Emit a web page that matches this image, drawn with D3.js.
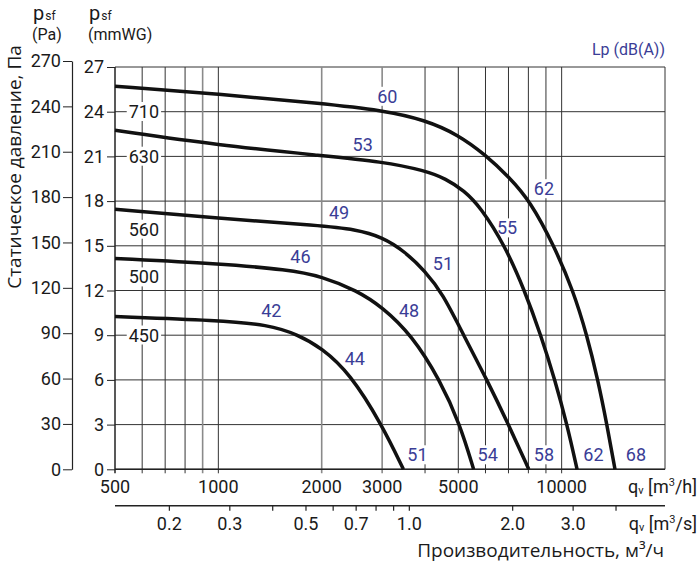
<!DOCTYPE html>
<html>
<head>
<meta charset="utf-8">
<script src="https://cdn.jsdelivr.net/npm/d3@7"></script>
<style>
	body { margin: 0; background: #fff; }
	text { font-family: Roboto, "DejaVu Sans", sans-serif; }
	.title { font-family: "Open Sans", sans-serif; }
</style>
</head>
<body>
<svg id="chart" width="700" height="570"></svg>
<script>
// fan curves: flow in m3/h, static pressure in mmWG
const q710 = [500, 1000, 2000, 3000, 4000, 5000, 6000, 7000, 8100, 9500, 10800, 11850, 12750, 13550, 14300];
const p710 = [25.7, 25.2, 24.55, 24.1, 23.45, 22.45, 21.1, 19.65, 18, 15, 12, 9, 6, 3, 0];
const q630 = [500, 1000, 2000, 3000, 4000, 4600, 5200, 5800, 6840, 7800, 8700, 9560, 10370, 11090];
const p630 = [22.75, 21.75, 21.05, 20.65, 20.05, 19.5, 18.7, 17.6, 15, 12, 9, 6, 3, 0];
const q560 = [500, 1000, 2000, 2500, 3000, 3500, 4000, 4500, 5180, 6060, 7000, 8020];
const p560 = [17.45, 16.85, 16.35, 16.1, 15.6, 14.6, 13.3, 11.8, 9, 6, 3, 0];
const q500 = [500, 1000, 1600, 2000, 2530, 3000, 3660, 4420, 5060, 5540];
const p500 = [14.15, 13.8, 13.4, 12.95, 12, 10.9, 9, 6, 3, 0];
const q450 = [500, 1000, 1400, 1700, 2000, 2415, 3000, 3460];
const p450 = [10.25, 10.0, 9.7, 9.05, 8.15, 6.45, 2.97, 0];

const curveFlows = [q710, q630, q560, q500, q450];
const curvePressures = [p710, p630, p560, p500, p450];

// fan size labels
const sizeNames = ["710", "630", "560", "500", "450"];
const sizeLabelP = [24, 21, 16.1, 12.9, 9];
const sizeLabelQ = 607;

// sound level labels
const dbText = ["60", "53", "49", "46", "42", "62", "55", "51", "48", "44", "51", "54", "58", "62", "68"];
const dbQ = [3105, 2632, 2248, 1734, 1426, 8880, 6937, 4510, 3593, 2498, 3801, 6088, 8880, 12380, 16460];
const dbP = [25.02, 21.78, 17.19, 14.24, 10.63, 18.82, 16.19, 13.83, 10.63, 7.45, 0.96, 0.96, 0.96, 0.96, 0.96];

// axes
const gridFlows = [600, 700, 800, 900, 1000, 2000, 3000, 4000, 5000, 6000, 7000, 8000, 9000, 10000];
const grayFlows = [900, 2000, 3000];
const flowLabels = [500, 1000, 2000, 3000, 5000, 10000];
const mmTicks = d3.range(0, 28, 3);
const paTicks = d3.range(0, 271, 30);
const secTicks = [0.2, 0.3, 0.4, 0.5, 0.6, 0.7, 0.8, 0.9, 1, 2, 3, 4];
const secLabels = [0.2, 0.3, 0.5, 0.7, 1, 2, 3];

const blue = "#3a3d96";
const ink = "#1a1a1a";

const svg = d3.select("#chart");

const x = d3.scaleLog().domain([500, 20000]).range([115, 665]);
const y = d3.scaleLinear().domain([0, 27]).range([469.3, 67]);
const yPa = d3.scaleLinear().domain([0, 270]).range([469.3, 61]);

const plotLeft = x.range()[0], plotRight = x.range()[1];
const plotBottom = y.range()[0], plotTop = y.range()[1];

// grid
const grid = svg.append("g");
grid.selectAll("line.h")
	.data(mmTicks)
	.join("line")
	.attr("x1", plotLeft).attr("x2", plotRight)
	.attr("y1", d => y(d)).attr("y2", d => y(d))
	.attr("stroke", "#333").attr("stroke-width", 1);

grid.selectAll("line.v")
	.data(gridFlows)
	.join("line")
	.attr("x1", d => x(d)).attr("x2", d => x(d))
	.attr("y1", plotTop).attr("y2", plotBottom + 4)
	.attr("stroke", d => grayFlows.includes(d) ? "#8a8a8a" : "#333")
	.attr("stroke-width", d => grayFlows.includes(d) ? 1.6 : 1);

// right border
grid.append("line")
	.attr("x1", plotRight).attr("x2", plotRight)
	.attr("y1", plotTop).attr("y2", plotBottom)
	.attr("stroke", "#333");

// left mmWG axis
const mmAxis = svg.append("g").attr("transform", `translate(${plotLeft},0)`)
	.call(d3.axisLeft(y).tickValues(mmTicks).tickSize(8).tickSizeOuter(0).tickPadding(3));
mmAxis.select(".domain").attr("stroke", "#222").attr("stroke-width", 1.5).attr("d", `M0,${plotBottom + 4}V${plotTop}`);
mmAxis.selectAll("line").attr("stroke", "#222");
mmAxis.selectAll("text").attr("font-size", 18).attr("fill", ink).attr("font-family", "Roboto");

// Pa axis
const paAxis = svg.append("g").attr("transform", "translate(72,0)")
	.call(d3.axisLeft(yPa).tickValues(paTicks).tickSize(9).tickSizeOuter(0).tickPadding(2));
paAxis.select(".domain").attr("stroke", "#222").attr("stroke-width", 1.2);
paAxis.selectAll("line").attr("stroke", "#222");
paAxis.selectAll("text").attr("font-size", 18).attr("fill", ink).attr("font-family", "Roboto");

// bottom m3/h axis
svg.append("line")
	.attr("x1", plotLeft).attr("x2", plotRight)
	.attr("y1", plotBottom).attr("y2", plotBottom)
	.attr("stroke", "#222").attr("stroke-width", 1.5);
svg.append("g").selectAll("text")
	.data(flowLabels)
	.join("text")
	.attr("x", d => x(d))
	.attr("y", 493)
	.attr("text-anchor", "middle")
	.attr("font-size", 18)
	.attr("fill", ink)
	.text(d => d);

// second m3/s axis
const ySec = 505.7;
svg.append("line")
	.attr("x1", plotLeft).attr("x2", plotRight)
	.attr("y1", ySec).attr("y2", ySec)
	.attr("stroke", "#222").attr("stroke-width", 1.5);
svg.append("g").selectAll("line")
	.data(secTicks)
	.join("line")
	.attr("x1", d => x(d * 3600)).attr("x2", d => x(d * 3600))
	.attr("y1", ySec).attr("y2", ySec + 5)
	.attr("stroke", "#222").attr("stroke-width", 1.2);
svg.append("g").selectAll("text")
	.data(secLabels)
	.join("text")
	.attr("x", d => x(d * 3600))
	.attr("y", 530)
	.attr("text-anchor", "middle")
	.attr("font-size", 18)
	.attr("fill", ink)
	.text(d => d3.format(".1f")(d));

// unit labels
function unitLabel(yPos, unit) {
	const t = svg.append("text")
		.attr("x", 697).attr("y", yPos)
		.attr("text-anchor", "end")
		.attr("font-size", 18)
		.attr("fill", ink);
	t.append("tspan").text("q");
	t.append("tspan").attr("font-size", 11).attr("dy", 1).text("v");
	t.append("tspan").attr("dy", -1).text(" [m");
	t.append("tspan").attr("font-size", 11).attr("dy", -7).text("3");
	t.append("tspan").attr("dy", 7).text("/" + unit + "]");
}
unitLabel(493, "h");
unitLabel(530, "s");

// pressure headers
function header(xPos, unit) {
	const t = svg.append("text")
		.attr("x", xPos).attr("y", 20)
		.attr("font-size", 20)
		.attr("fill", ink);
	t.append("tspan").text("p");
	t.append("tspan").attr("font-size", 12).attr("dx", 1).attr("dy", 0).text("sf");
	svg.append("text")
		.attr("x", xPos - 1).attr("y", 40)
		.attr("font-size", 16)
		.attr("fill", ink)
		.text(unit);
}
header(33, "(Pa)");
header(89, "(mmWG)");

svg.append("text")
	.attr("x", 665).attr("y", 55)
	.attr("text-anchor", "end")
	.attr("font-size", 16)
	.attr("fill", blue)
	.text("Lp (dB(A))");

// axis titles
svg.append("text")
	.attr("class", "title")
	.attr("transform", "translate(21,167) rotate(-90)")
	.attr("text-anchor", "middle")
	.attr("font-size", 19)
	.attr("fill", ink)
	.text("Статическое давление, Па");

svg.append("text")
	.attr("class", "title")
	.attr("x", 664).attr("y", 557)
	.attr("text-anchor", "end")
	.attr("font-size", 19)
	.attr("fill", ink)
	.text("Производительность, м³/ч");

// labels with white boxes
function boxedLabel(layer, xPos, yPos, txt, color) {
	const g = layer.append("g");
	const t = g.append("text")
		.attr("x", xPos).attr("y", yPos)
		.attr("dy", "0.35em")
		.attr("text-anchor", "middle")
		.attr("font-size", 18)
		.attr("fill", color)
		.text(txt);
	const b = t.node().getBBox();
	g.insert("rect", "text")
		.attr("x", b.x - 2).attr("y", b.y + 1)
		.attr("width", b.width + 4).attr("height", b.height - 2)
		.attr("fill", "#fff");
}

const labels = svg.append("g");
sizeNames.forEach((name, i) => boxedLabel(labels, x(sizeLabelQ), y(sizeLabelP[i]), name, ink));
dbText.forEach((txt, i) => boxedLabel(labels, x(dbQ[i]), y(dbP[i]), txt, blue));

// curves (B-spline smooths the read-off points)
const line = d3.line()
	.x(d => x(d[0]))
	.y(d => y(d[1]))
	.curve(d3.curveBasis);

svg.append("g").selectAll("path")
	.data(curveFlows.map((qs, i) => qs.map((q, j) => [q, curvePressures[i][j]])))
	.join("path")
	.attr("d", line)
	.attr("fill", "none")
	.attr("stroke", "#111")
	.attr("stroke-width", 3.5)
	.attr("stroke-linecap", "butt");
</script>
</body>
</html>
